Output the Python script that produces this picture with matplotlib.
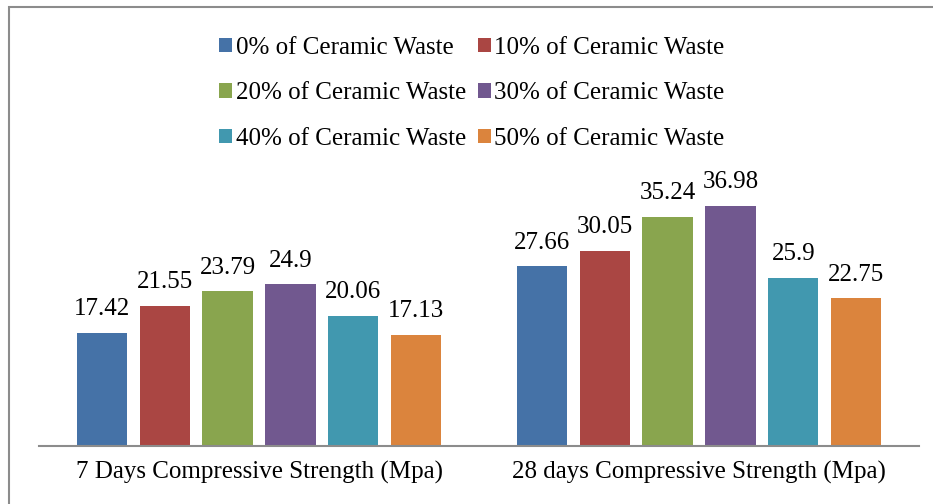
import numpy as np
import matplotlib
matplotlib.use('Agg')
from matplotlib import pyplot as plt
from matplotlib.patches import Rectangle

plt.rcParams['font.family'] = ['Liberation Serif', 'DejaVu Serif']

categories = ['7 Days Compressive Strength (Mpa)', '28 days Compressive Strength (Mpa)']
series = ['0% of Ceramic Waste', '10% of Ceramic Waste', '20% of Ceramic Waste',
          '30% of Ceramic Waste', '40% of Ceramic Waste', '50% of Ceramic Waste']
values = [[17.42, 27.66],
          [21.55, 30.05],
          [23.79, 35.24],
          [24.9, 36.98],
          [20.06, 25.9],
          [17.13, 22.75]]
labels = [['17.42', '27.66'],
          ['21.55', '30.05'],
          ['23.79', '35.24'],
          ['24.9', '36.98'],
          ['20.06', '25.9'],
          ['17.13', '22.75']]
colors = ['#4572A7', '#AA4643', '#89A54E', '#71588F', '#4198AF', '#DB843D']

fig = plt.figure(figsize=(9.33, 5.04), dpi=100)
ax = fig.add_axes([39/933, 58/504, 880/933, 260/504])

x = np.arange(len(categories))
step = 0.143
width = 0.114
handles = []
for i, (s, v) in enumerate(zip(series, values)):
    pos = x + (i - 2.5) * step
    bars = ax.bar(pos, v, width, color=colors[i], label=s)
    ax.bar_label(bars, labels=labels[i], padding=9, fontsize=18, clip_on=False)
    handles.append(bars)

ax.set_xlim(-0.5, 1.5)
ax.set_ylim(0, 40)
ax.set_yticks([])
ax.set_xticks(x)
ax.set_xticklabels(categories, fontsize=18)
ax.tick_params(axis='x', length=0, pad=11)
for side in ['top', 'right', 'left']:
    ax.spines[side].set_visible(False)
ax.spines['bottom'].set_color('#8c8c8c')
ax.spines['bottom'].set_linewidth(1.5)

# legend filled row by row, like the original
order = [0, 2, 4, 1, 3, 5]
fig.legend([handles[k] for k in order], [series[k] for k in order],
           loc='upper center', bbox_to_anchor=(472/933, 1 - 14/504), ncol=2,
           frameon=False, fontsize=18, handlelength=0.5, handleheight=0.5,
           handletextpad=0.15, columnspacing=0.5, labelspacing=0.95)

# outer border of the chart
fig.patches.append(Rectangle((9/933, -0.1), 1.2, 1.1 - 7/504, transform=fig.transFigure,
                             fill=False, edgecolor='#8c8c8c', linewidth=1.5))

fig.savefig('out.png', dpi=100)
